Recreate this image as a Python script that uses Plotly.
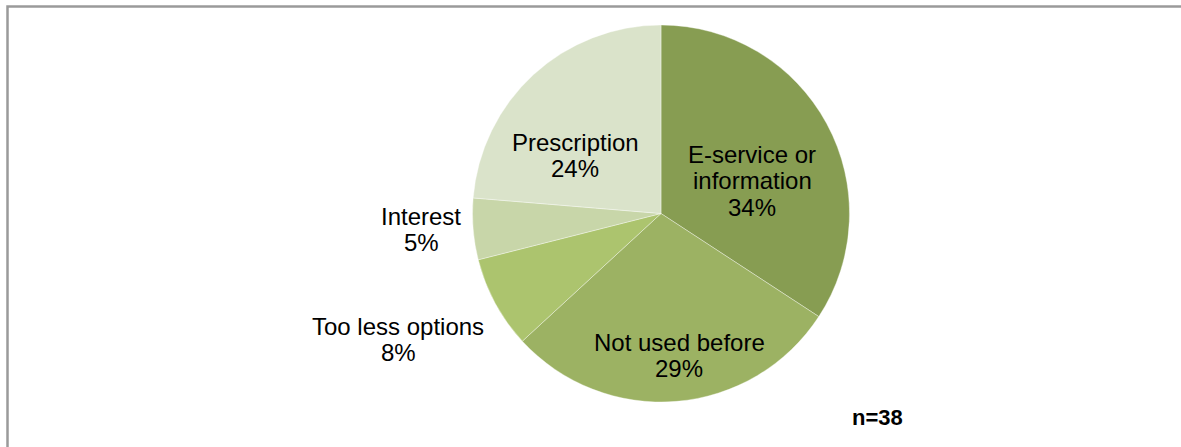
import plotly.graph_objects as go

# Data
categories = ["E-service or information", "Not used before", "Too less options", "Interest", "Prescription"]
counts = [13, 11, 3, 2, 9]
label_lines = [["E-service or", "information"], ["Not used before"], ["Too less options"], ["Interest"], ["Prescription"]]
n_total = sum(counts)
colors = ["#879D52", "#9CB263", "#ACC46E", "#C8D6A9", "#DAE3CA"]

W, H = 1181, 447

# label anchor positions (pixels: x center, y center of first line)
label_pos = [(752, 154), (679, 342), (398, 326), (421, 216), (575, 142)]
line_gap = 26.5

fig = go.Figure()
fig.add_trace(go.Pie(
    labels=categories,
    values=counts,
    sort=False,
    direction="clockwise",
    rotation=0,
    marker=dict(colors=colors, line=dict(color="rgba(255,255,255,0.6)", width=0.6)),
    textinfo="none",
    hoverinfo="label+percent",
    showlegend=False,
    domain=dict(x=[472.5 / W, 849.5 / W], y=[1 - 402 / H, 1 - 25 / H]),
))

annotations = []
font = dict(family="Liberation Sans, Arial, sans-serif", size=24, color="#000000")
for lines, cnt, (px, py) in zip(label_lines, counts, label_pos):
    pct = f"{round(100 * cnt / n_total)}%"
    for i, t in enumerate(lines + [pct]):
        annotations.append(dict(
            x=px / W, y=1 - (py + i * line_gap) / H, xref="paper", yref="paper",
            text=t, showarrow=False, xanchor="center", yanchor="middle", font=font,
        ))

annotations.append(dict(
    x=877 / W, y=1 - 417 / H, xref="paper", yref="paper",
    text=f"<b>n={n_total}</b>", showarrow=False, xanchor="center", yanchor="middle",
    font=dict(family="Liberation Sans, Arial, sans-serif", size=22, color="#000000"),
))

fig.update_layout(
    width=W, height=H,
    margin=dict(l=0, r=0, t=0, b=0),
    paper_bgcolor="white",
    plot_bgcolor="white",
    annotations=annotations,
    shapes=[dict(type="rect", xref="paper", yref="paper",
                 x0=7.5 / W, x1=1.1, y0=-0.1, y1=1 - 6.5 / H,
                 line=dict(color="#9A9A9A", width=2.5), fillcolor="rgba(0,0,0,0)", layer="above")],
)

fig.write_html("out.html")
